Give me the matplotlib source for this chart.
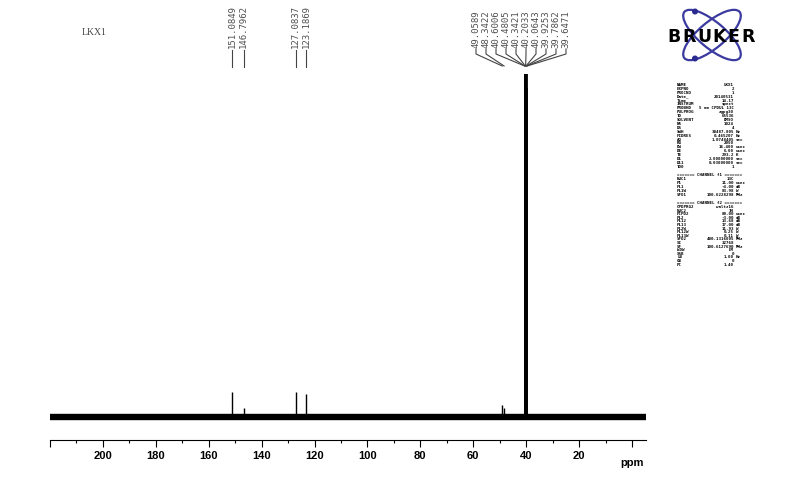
import matplotlib.pyplot as plt
from matplotlib.lines import Line2D
from matplotlib.patches import Ellipse, Circle
from matplotlib.ticker import FixedLocator, FuncFormatter
from matplotlib.transforms import IdentityTransform

W, H = 800, 485

sample_name = "LKX1"

# picked peaks (ppm) and their heights (tallest = 100)
peak_ppm = [151.0849, 146.7962, 127.0837, 123.1869, 49.0589, 48.3422,
            40.6006, 40.4805, 40.3421, 40.2033, 40.0643, 39.9253, 39.7862, 39.6471]
peak_height = [7.4, 2.6, 7.2, 6.8, 3.6, 2.6,
               96, 100, 100, 100, 100, 100, 100, 96]

major_ticks = list(range(0, 221, 20))
minor_ticks = list(range(10, 220, 20))

acq_params = [("NAME", "LKX1", ""), ("EXPNO", "2", ""), ("PROCNO", "1", ""),
              ("Date_", "20140531", ""), ("Time", "14.17", ""),
              ("INSTRUM", "spect", ""), ("PROBHD", "5 mm CPDUL 13C", ""),
              ("PULPROG", "zgpg30", ""), ("TD", "65536", ""),
              ("SOLVENT", "DMSO", ""), ("NS", "1024", ""), ("DS", "4", ""),
              ("SWH", "30487.805", "Hz"), ("FIDRES", "0.465207", "Hz"),
              ("AQ", "1.0748405", "sec"), ("RG", "2050", ""),
              ("DW", "16.400", "usec"), ("DE", "6.00", "usec"),
              ("TE", "293.2", "K"), ("D1", "2.00000000", "sec"),
              ("D11", "0.03000000", "sec"), ("TD0", "1", "")]
f1_params = [("NUC1", "13C", ""), ("P1", "11.00", "usec"), ("PL1", "-4.00", "dB"),
             ("PL1W", "83.98", "W"), ("SFO1", "100.6228298", "MHz")]
f2_params = [("CPDPRG2", "waltz16", ""), ("NUC2", "1H", ""),
             ("PCPD2", "80.00", "usec"), ("PL2", "-3.00", "dB"),
             ("PL12", "13.68", "dB"), ("PL13", "17.00", "dB"),
             ("PL2W", "11.93", "W"), ("PL12W", "0.25", "W"),
             ("PL13W", "0.11", "W"), ("SFO2", "400.1316005", "MHz"),
             ("SI", "32768", ""), ("SF", "100.6127690", "MHz"),
             ("WDW", "EM", ""), ("SSB", "0", ""), ("LB", "1.00", "Hz"),
             ("GB", "0", ""), ("PC", "1.40", "")]

plt.rcParams["font.family"] = ["Liberation Sans", "DejaVu Sans"]

fig = plt.figure(figsize=(W / 100, H / 100), dpi=100)
px = IdentityTransform()

# spectrum
ax = fig.add_axes([50 / W, 44 / H, 596 / W, 381 / H])
ax.set_xlim(220, -5.3)
ax.set_ylim(-6.7, 104.4)
for s in ("left", "right", "top"):
    ax.spines[s].set_visible(False)
ax.spines["bottom"].set_linewidth(0.8)
ax.yaxis.set_visible(False)
ax.patch.set_alpha(0)

ax.xaxis.set_major_locator(FixedLocator(major_ticks))
ax.xaxis.set_minor_locator(FixedLocator(minor_ticks))
ax.xaxis.set_major_formatter(FuncFormatter(lambda v, p: "" if v in (0, 220) else f"{v:.0f}"))
ax.tick_params(axis="x", which="major", length=5, width=0.8, pad=2, labelsize=8)
ax.tick_params(axis="x", which="minor", length=2, width=0.8)
for lab in ax.get_xticklabels():
    lab.set_fontweight("bold")
ax.text(0, -0.045, "ppm", transform=ax.get_xaxis_transform(), ha="center", va="top",
        fontsize=8, fontweight="bold")

# noise band of the baseline
ax.plot([220, -5.3], [0, 0], color="black", lw=4.6, solid_capstyle="butt")
ax.vlines(peak_ppm[:6], 0, peak_height[:6], color="black", lw=1.0)
ax.vlines(peak_ppm[6:], 0, peak_height[6:], color="black", lw=1.3)

fig.text(94, H - 33, sample_name, transform=px, ha="center", va="center",
         fontsize=7, family="Liberation Serif", color="#444444")

# peak labels
for i, (ppm, h) in enumerate(zip(peak_ppm, peak_height)):
    x_peak = ax.transData.transform((ppm, 0))[0]
    if i < 4:
        x_col = x_peak
        fig.add_artist(Line2D([x_col, x_col], [H - 51, H - 68], transform=px,
                              color="#444444", lw=0.8))
    else:
        x_col = 476 + (i - 4) * 10
        fig.add_artist(Line2D([x_col, x_col, x_peak], [H - 50, H - 55, H - 67],
                              transform=px, color="#444444", lw=0.8))
    fig.text(x_col, H - 48, f"{ppm:.4f}", transform=px, rotation=90,
             ha="center", va="bottom", fontsize=6.5, family="DejaVu Sans Mono",
             color="#505050")

# Bruker logo
logo = fig.add_axes([660 / W, (H - 70) / H, 110 / W, 70 / H])
logo.set_xlim(660, 770)
logo.set_ylim(70, 0)
logo.axis("off")
for ang in (40, -40):
    logo.add_patch(Ellipse((712, 36), 72, 26, angle=ang, fill=False,
                           lw=1.6, color="#3a3aa0"))
logo.add_patch(Circle((695, 12.5), 2.3, color="#2a2a90"))
logo.add_patch(Circle((695, 59.5), 2.3, color="#2a2a90"))
for k, ch in enumerate("BRUKER"):
    logo.text(674.5 + k * 14.8, 37.5, ch, ha="center", va="center",
              fontsize=12.5, fontweight="bold", family="DejaVu Sans", color="black")

# acquisition / processing parameters


def param_rows(rows, y0, step):
    for k, (name, val, unit) in enumerate(rows):
        y = H - (y0 + k * step)
        opts = dict(transform=px, va="center", fontsize=3.0,
                    family="DejaVu Sans Mono", fontweight="bold", color="black")
        fig.text(677, y, name, ha="left", **opts)
        fig.text(734, y, val, ha="right", **opts)
        if unit:
            fig.text(736, y, unit, ha="left", **opts)


param_rows(acq_params, 85, 3.9)
hdr = dict(transform=px, va="center", ha="left", fontsize=3.0,
           family="DejaVu Sans Mono", fontweight="bold")
fig.text(677, H - 175, "======= CHANNEL f1 =======", **hdr)
param_rows(f1_params, 179, 3.9)
fig.text(677, H - 203, "======= CHANNEL f2 =======", **hdr)
param_rows(f2_params, 207, 3.6)

fig.savefig("out.png", dpi=100)
